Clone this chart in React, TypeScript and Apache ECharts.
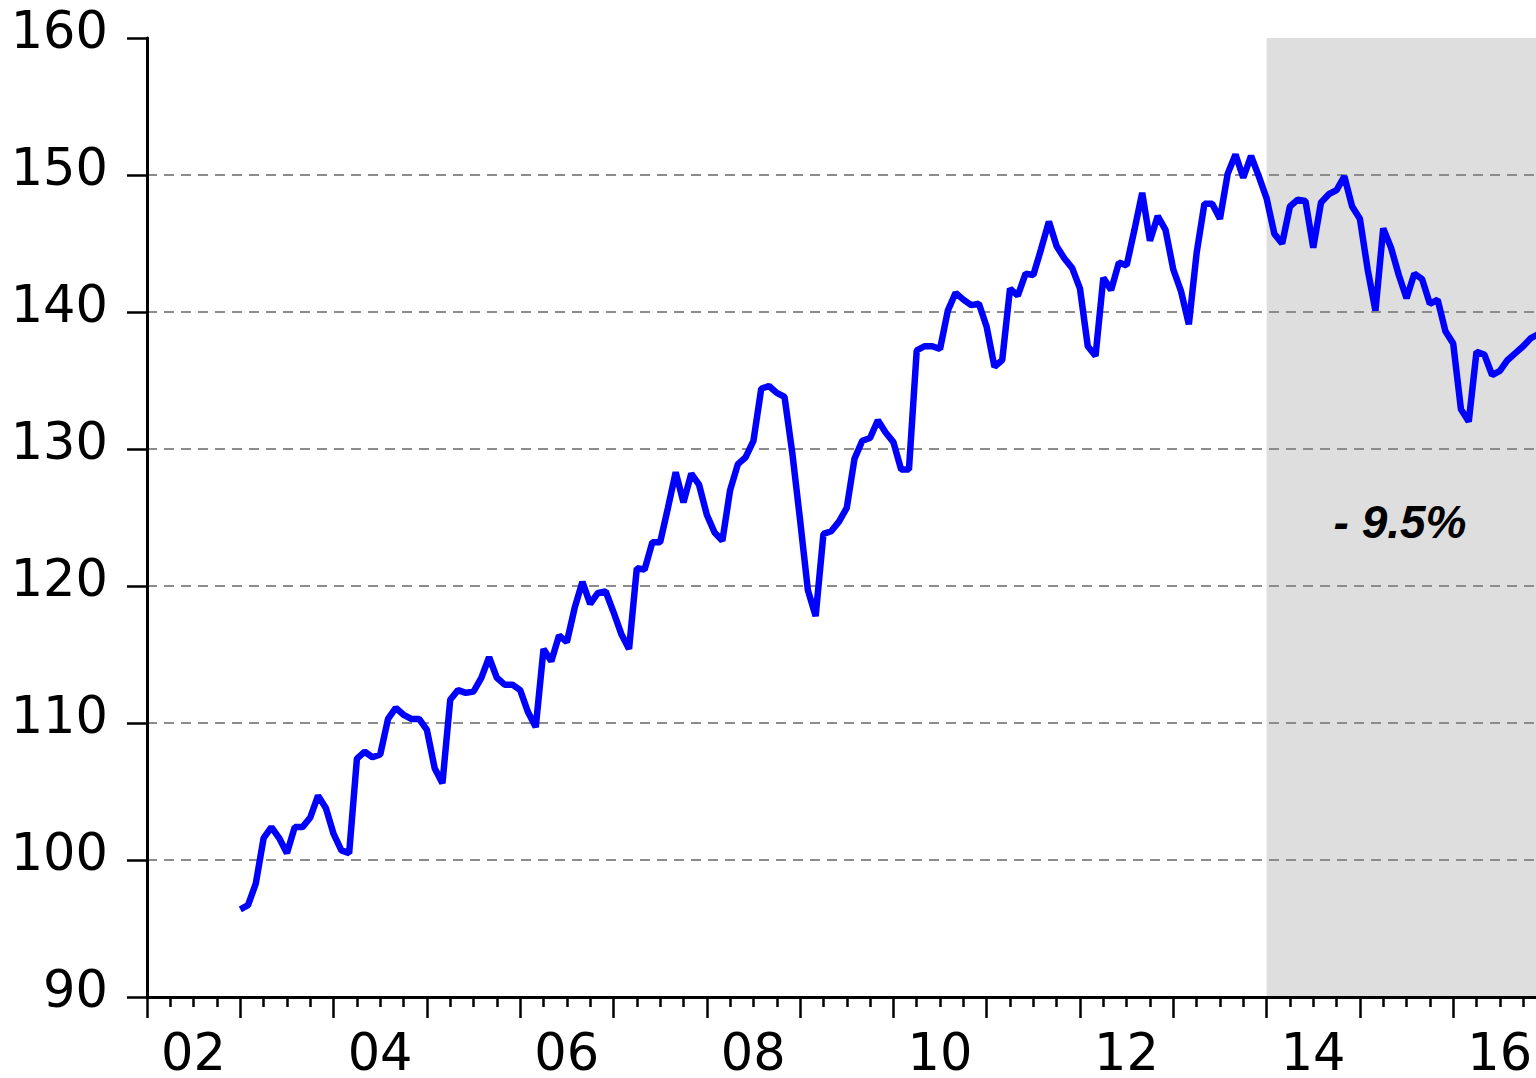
import React, { useEffect, useRef } from "react";
import * as echarts from "echarts";

// Monthly index, Jan 2003 onward
const START_YEAR = 2003;
const values: number[] = [
  96.4, 96.7, 98.3, 101.6, 102.4, 101.6, 100.5, 102.4, 102.4, 103.1, 104.7, 103.8,
  101.9, 100.7, 100.5, 107.4, 107.9, 107.5, 107.7, 110.3, 111.1, 110.6, 110.3, 110.3,
  109.5, 106.7, 105.6, 111.7, 112.4, 112.2, 112.3, 113.3, 114.8, 113.3, 112.8, 112.8,
  112.4, 110.8, 109.7, 115.4, 114.5, 116.4, 115.9, 118.4, 120.3, 118.7, 119.5, 119.6,
  118.1, 116.5, 115.4, 121.3, 121.2, 123.2, 123.2, 125.7, 128.3, 126.1, 128.2, 127.4,
  125.2, 123.9, 123.3, 127.0, 128.9, 129.4, 130.6, 134.4, 134.6, 134.1, 133.8, 129.7,
  124.8, 119.7, 117.8, 123.8, 124.0, 124.7, 125.7, 129.3, 130.6, 130.8, 132.1, 131.2,
  130.5, 128.5, 128.5, 137.2, 137.5, 137.5, 137.3, 140.1, 141.4, 140.9, 140.5, 140.6,
  138.9, 136.0, 136.5, 141.7, 141.2, 142.8, 142.7, 144.6, 146.6, 144.8, 143.9, 143.2,
  141.7, 137.5, 136.8, 142.5, 141.6, 143.6, 143.4, 146.0, 148.7, 145.2, 147.0, 146.0,
  143.1, 141.5, 139.1, 144.3, 147.9, 147.9, 146.8, 150.1, 151.5, 149.8, 151.4, 149.9,
  148.3, 145.7, 145.0, 147.7, 148.2, 148.1, 144.7, 148.0, 148.6, 148.9, 149.9, 147.7,
  146.8, 143.1, 140.1, 146.1, 144.7, 142.7, 141.0, 142.8, 142.4, 140.6, 140.9, 138.6,
  137.7, 132.9, 132.0, 137.1, 136.9, 135.4, 135.7, 136.5, 137.0, 137.5, 138.1, 138.4,
];

const X_MIN = 2002;
const X_MAX = 2017;
const Y_MIN = 90;
const Y_MAX = 160;
const SHADE_START = 2014;
const ANNOTATION_TEXT = "- 9.5%";
const ANNOTATION_POS: [number, number] = [2015.43, 124.67];

const AXIS_FONT = "'DejaVu Sans', 'Liberation Sans', Arial, sans-serif";
const NOTE_FONT = "'Liberation Sans', Arial, sans-serif";

export default function App() {
  const ref = useRef<HTMLDivElement>(null);

  useEffect(() => {
    if (!ref.current) return;
    const chart = echarts.init(ref.current, undefined, { renderer: "svg" });
    const data = values.map((v, i) => [START_YEAR + i / 12, v]);

    chart.setOption({
      animation: false,
      backgroundColor: "#ffffff",
      grid: {
        left: 147,
        right: 0.5,
        top: 38,
        bottom: 81,
        containLabel: false,
        outerBoundsMode: "none",
      },
      xAxis: {
        type: "value",
        min: X_MIN,
        max: X_MAX,
        interval: 1,
        z: 2,
        axisLine: { show: true, onZero: false, lineStyle: { color: "#000", width: 3 } },
        axisTick: { show: true, inside: false, length: 21, lineStyle: { color: "#000", width: 2.5 } },
        minorTick: { show: true, splitNumber: 4, length: 10, lineStyle: { color: "#000", width: 2.5 } },
        splitLine: { show: false },
        minorSplitLine: { show: false },
        axisLabel: {
          show: true,
          margin: 35,
          fontSize: 51,
          lineHeight: 40,
          fontFamily: AXIS_FONT,
          color: "#000",
          align: "center",
          verticalAlign: "top",
          padding: [0, 0, 0, 93],
          formatter: (v: number) => {
            const r = Math.round(v);
            if (Math.abs(v - r) > 1e-6 || r % 2 !== 0 || r >= X_MAX) return "";
            return String(r % 100).padStart(2, "0");
          },
        },
      },
      yAxis: {
        type: "value",
        min: Y_MIN,
        max: Y_MAX,
        interval: 10,
        z: 2,
        axisLine: { show: true, onZero: false, lineStyle: { color: "#000", width: 3 } },
        axisTick: { show: true, inside: false, length: 20, lineStyle: { color: "#000", width: 2.5 } },
        splitLine: {
          show: true,
          showMinLine: false,
          showMaxLine: false,
          lineStyle: { color: "#8c8c8c", width: 2, type: [10, 7] },
        },
        axisLabel: {
          show: true,
          margin: 39,
          fontSize: 51,
          lineHeight: 15,
          verticalAlign: "bottom",
          fontFamily: AXIS_FONT,
          color: "#000",
        },
      },
      series: [
        {
          type: "line",
          data,
          z: 3,
          symbol: "none",
          silent: true,
          clip: true,
          lineStyle: { color: "#0000ff", width: 6.5 },
          markArea: {
            silent: true,
            z: 1,
            itemStyle: { color: "#dedede", borderWidth: 0 },
            data: [[{ xAxis: SHADE_START, yAxis: Y_MAX }, { xAxis: X_MAX, yAxis: Y_MIN }]],
          },
          markPoint: {
            silent: true,
            symbol: "circle",
            symbolSize: 1,
            itemStyle: { color: "transparent" },
            label: {
              show: true,
              position: "inside",
              formatter: ANNOTATION_TEXT,
              fontSize: 46,
              fontWeight: "bold",
              fontStyle: "italic",
              fontFamily: NOTE_FONT,
              color: "#000",
            },
            data: [{ coord: ANNOTATION_POS }],
          },
        },
      ],
    });

    return () => chart.dispose();
  }, []);

  return (
    <div
      style={{
        position: "fixed",
        left: 0,
        top: 0,
        width: 1536,
        height: 1078,
        overflow: "hidden",
        background: "#fff",
      }}
    >
      <div ref={ref} style={{ width: 1547, height: 1078 }} />
    </div>
  );
}
